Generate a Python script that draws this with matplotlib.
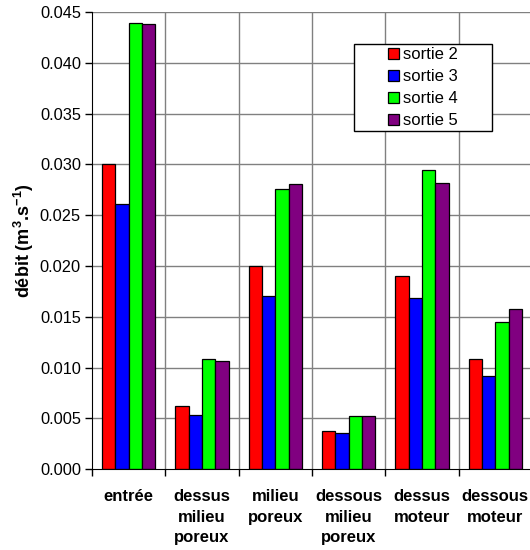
import matplotlib
matplotlib.use('Agg')
import matplotlib.pyplot as plt
from matplotlib.patches import Rectangle
import numpy as np

plt.rcParams['font.family'] = ['Liberation Sans', 'DejaVu Sans']
plt.rcParams['mathtext.fontset'] = 'custom'
plt.rcParams['mathtext.rm'] = 'Liberation Sans'
plt.rcParams['mathtext.bf'] = 'Liberation Sans:bold'

categories = ['entrée', 'dessus\nmilieu\nporeux', 'milieu\nporeux',
              'dessous\nmilieu\nporeux', 'dessus\nmoteur', 'dessous\nmoteur']
series = ['sortie 2', 'sortie 3', 'sortie 4', 'sortie 5']
sortie2 = [0.0300, 0.0062, 0.0200, 0.0038, 0.0190, 0.0109]
sortie3 = [0.0261, 0.0053, 0.0171, 0.0036, 0.0169, 0.0092]
sortie4 = [0.0439, 0.0109, 0.0276, 0.0052, 0.0295, 0.0145]
sortie5 = [0.0438, 0.0107, 0.0281, 0.0052, 0.0282, 0.0158]
colors = ['#FF0000', '#0000FF', '#00FF00', '#800080']
yticks = [0.000, 0.005, 0.010, 0.015, 0.020, 0.025, 0.030, 0.035, 0.040, 0.045]

fig = plt.figure(figsize=(5.3, 5.5), dpi=100)
ax = fig.add_axes([92 / 530, 1 - 469.3 / 550, 440 / 530, 457.3 / 550])

x = np.arange(len(categories))
w = 1 / 5.5
for i, (vals, c, lab) in enumerate(zip([sortie2, sortie3, sortie4, sortie5], colors, series)):
    ax.bar(x + (i - 1.5) * w, vals, width=w, color=c, edgecolor='black',
           linewidth=0.9, label=lab, zorder=3)

ax.set_xlim(-0.5, len(categories) - 0.5)
ax.set_ylim(0, 0.045)
ax.set_yticks(yticks)
ax.set_yticklabels([f'{v:.3f}' for v in yticks], fontsize=11.8)

bounds = np.arange(-0.5, len(categories) + 0.5, 1.0)
ax.set_xticks(bounds)
ax.set_xticklabels([])
ax.set_xticks(x, minor=True)
ax.set_xticklabels(categories, minor=True, fontsize=12, fontweight='bold', linespacing=1.45,
                   va='top')
ax.tick_params(axis='x', which='minor', length=0, pad=14.5)
ax.tick_params(axis='x', which='major', length=5, width=1, direction='out')
ax.tick_params(axis='y', length=5, width=1, direction='out', pad=3)

for b in bounds[1:-1]:
    ax.axvline(b, color='#808080', linewidth=1, zorder=1)
for v in yticks[1:]:
    ax.axhline(v, color='#808080', linewidth=1, zorder=1)

ax.spines['top'].set_visible(False)
ax.spines['right'].set_visible(False)
ax.spines['left'].set_zorder(4)
ax.spines['bottom'].set_zorder(4)

ax.set_ylabel(r'débit (m$^\mathbf{3}$.s$^\mathbf{-1}$)', fontsize=13, fontweight='bold', labelpad=3)

box = Rectangle((0.595, 0.740), 0.314, 0.190, transform=ax.transAxes,
                facecolor='white', edgecolor='black', linewidth=1, zorder=5)
ax.add_patch(box)
leg = ax.legend(loc='center', bbox_to_anchor=(0.752, 0.835), frameon=False, fontsize=12,
                handlelength=0.65, handleheight=0.65, handletextpad=0.25, labelspacing=0.42,
                borderpad=0)
leg.set_zorder(6)

fig.savefig('out.png', dpi=100)
